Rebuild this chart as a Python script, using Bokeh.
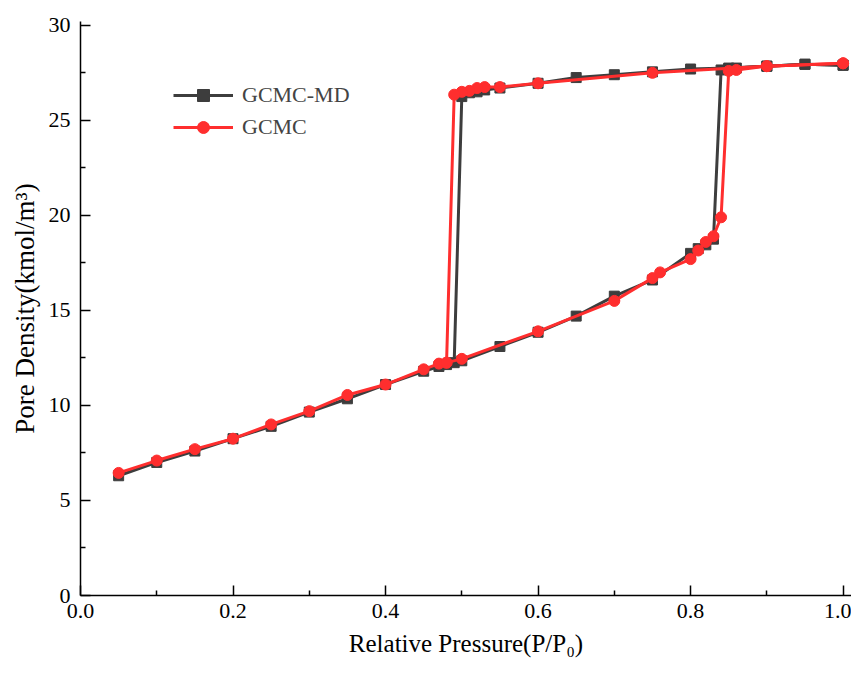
from bokeh.plotting import figure
from bokeh.models import Legend, LegendItem, FixedTicker, PrintfTickFormatter
from bokeh.embed import file_html
from bokeh.resources import INLINE

# GCMC-MD (black squares): adsorption branch, then desorption branch
md_ads_x = [0.05, 0.10, 0.15, 0.20, 0.25, 0.30, 0.35, 0.40, 0.45, 0.47, 0.48, 0.50,
            0.55, 0.60, 0.65, 0.70, 0.75, 0.80, 0.81, 0.82, 0.83, 0.84, 0.85, 0.86,
            0.90, 0.95, 1.00]
md_ads_y = [6.3, 7.0, 7.6, 8.25, 8.9, 9.65, 10.35, 11.1, 11.8, 12.05, 12.15, 12.35,
            13.1, 13.85, 14.7, 15.75, 16.6, 18.0, 18.25, 18.45, 18.75, 27.65, 27.7, 27.75,
            27.85, 27.95, 27.9]
md_des_x = [1.00, 0.95, 0.90, 0.85, 0.80, 0.75, 0.70, 0.65, 0.60, 0.55, 0.53, 0.52,
            0.51, 0.50, 0.49]
md_des_y = [27.9, 27.95, 27.85, 27.75, 27.7, 27.55, 27.4, 27.25, 26.95, 26.7, 26.6, 26.5,
            26.45, 26.25, 12.25]

# GCMC (red circles)
gc_ads_x = [0.05, 0.10, 0.15, 0.20, 0.25, 0.30, 0.35, 0.40, 0.45, 0.47, 0.48, 0.50,
            0.60, 0.70, 0.75, 0.76, 0.80, 0.81, 0.82, 0.83, 0.84, 0.85, 0.86, 0.90, 1.00]
gc_ads_y = [6.45, 7.1, 7.7, 8.25, 9.0, 9.7, 10.55, 11.1, 11.9, 12.2, 12.25, 12.45,
            13.9, 15.5, 16.7, 17.0, 17.7, 18.15, 18.6, 18.9, 19.9, 27.6, 27.65, 27.85, 28.0]
gc_des_x = [1.00, 0.90, 0.75, 0.60, 0.55, 0.53, 0.52, 0.51, 0.50, 0.49, 0.48]
gc_des_y = [28.0, 27.85, 27.5, 26.95, 26.75, 26.75, 26.7, 26.55, 26.5, 26.35, 12.25]

BLACK = "#3d3d3d"
RED = "#ff2e2e"
SERIF = "Liberation Serif"

p = figure(
    width=851, height=666,
    x_range=(0, 1.011), y_range=(0, 30.2),
    output_backend="svg", toolbar_location=None,
    min_border_left=80, min_border_top=21, min_border_right=0, min_border_bottom=71,
)
p.outline_line_color = None
p.grid.visible = False

# black series
r1 = p.line(md_ads_x, md_ads_y, line_color=BLACK, line_width=3)
p.line(md_des_x, md_des_y, line_color=BLACK, line_width=3)
r1m = p.scatter(md_ads_x + md_des_x, md_ads_y + md_des_y, marker="square", size=10,
                fill_color=BLACK, line_color=BLACK)

# red series
r2 = p.line(gc_ads_x, gc_ads_y, line_color=RED, line_width=3)
p.line(gc_des_x, gc_des_y, line_color=RED, line_width=3)
r2m = p.scatter(gc_ads_x + gc_des_x, gc_ads_y + gc_des_y, marker="circle", size=11,
                fill_color=RED, line_color=RED)

# axes
p.xaxis.ticker = FixedTicker(ticks=[0, 0.2, 0.4, 0.6, 0.8, 1.0],
                             minor_ticks=[0.1, 0.3, 0.5, 0.7, 0.9])
p.yaxis.ticker = FixedTicker(ticks=[0, 5, 10, 15, 20, 25, 30],
                             minor_ticks=[2.5, 7.5, 12.5, 17.5, 22.5, 27.5])
p.xaxis.formatter = PrintfTickFormatter(format="%.1f")
for ax in (p.xaxis, p.yaxis):
    ax.axis_line_color = "black"
    ax.axis_line_width = 1.5
    ax.major_tick_in = 10
    ax.major_tick_out = 0
    ax.minor_tick_in = 5
    ax.minor_tick_out = 0
    ax.major_tick_line_width = 1.5
    ax.minor_tick_line_width = 1.5
    ax.major_tick_line_color = "black"
    ax.minor_tick_line_color = "black"
    ax.major_label_text_font = SERIF
    ax.major_label_text_font_size = "22px"
    ax.major_label_text_color = "black"
    ax.axis_label_text_font = SERIF
    ax.axis_label_text_font_style = "normal"
    ax.axis_label_text_color = "black"

p.xaxis.axis_label = "Relative Pressure(P/P\u2080)"
p.yaxis.axis_label = "Pore Density(kmol/m\u00b3)"
p.xaxis.axis_label_text_font_size = "25px"
p.yaxis.axis_label_text_font_size = "27px"
p.xaxis.major_label_standoff = 8
p.yaxis.major_label_standoff = 10
p.xaxis.axis_label_standoff = 9
p.yaxis.axis_label_standoff = 6

legend = Legend(
    items=[
        LegendItem(label="GCMC-MD", renderers=[r1, r1m]),
        LegendItem(label="GCMC", renderers=[r2, r2m]),
    ],
    location=(93, 453),
    border_line_color=None,
    background_fill_alpha=0,
    label_text_font=SERIF,
    label_text_font_size="22px",
    glyph_width=60,
    glyph_height=30,
    label_height=30,
    label_standoff=9,
    spacing=2,
    padding=5,
)
p.add_layout(legend)

open("out.html", "w").write(file_html(p, INLINE))
